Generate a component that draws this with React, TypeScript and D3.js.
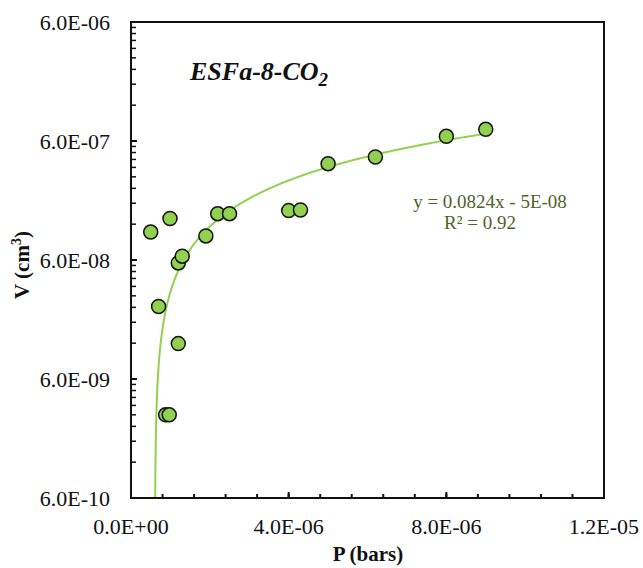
import React from "react";
import * as d3 from "d3";

const pressure = [5.0e-7, 7.0e-7, 8.8e-7, 9.7e-7, 9.9e-7, 1.2e-6, 1.2e-6, 1.3e-6, 1.9e-6, 2.2e-6, 2.5e-6, 4.0e-6, 4.3e-6, 5.0e-6, 6.2e-6, 8.0e-6, 9.0e-6];
const volume = [1.03e-7, 2.44e-8, 3.0e-9, 3.0e-9, 1.34e-7, 1.19e-8, 5.67e-8, 6.46e-8, 9.56e-8, 1.47e-7, 1.47e-7, 1.56e-7, 1.58e-7, 3.87e-7, 4.4e-7, 6.57e-7, 7.52e-7];
const xMajorTicks = [0, 4e-6, 8e-6, 1.2e-5];
const yMajorTicks = [6e-10, 6e-9, 6e-8, 6e-7, 6e-6];
const trendSlope = 0.0824;
const trendIntercept = -5e-8;
const trendXMax = 9.0e-6;
const title = "ESFa-8-CO";
const equationText = "y = 0.0824x - 5E-08";
const r2Text = "R² = 0.92";

function fmt(v: number): string {
  const [m, e] = v.toExponential(1).split("e");
  const sign = e[0];
  const digits = e.slice(1).padStart(2, "0");
  return m + "E" + sign + digits;
}

export default function App() {
  const W = 643, H = 568;
  const left = 131, right = 604, top = 22, bottom = 498;
  const x = d3.scaleLinear().domain([0, 1.2e-5]).range([left, right]);
  const y = d3.scaleLog().domain([6e-10, 6e-6]).range([bottom, top]);

  const xMinor: number[] = [];
  for (let i = 1; i < 15; i++) xMinor.push(i * 8e-7);
  const yMinor: number[] = [];
  yMajorTicks.slice(0, -1).forEach((m) => {
    for (let k = 2; k <= 9; k++) yMinor.push(m * k);
  });

  const x0 = (6e-10 - trendIntercept) / trendSlope;
  const trendPts: [number, number][] = [];
  const n = 400;
  for (let i = 0; i <= n; i++) {
    const t = i / n;
    const xv = x0 * Math.pow(trendXMax / x0, t);
    trendPts.push([xv, trendSlope * xv + trendIntercept]);
  }
  const line = d3
    .line<[number, number]>()
    .x((d) => x(d[0]))
    .y((d) => y(Math.max(d[1], 1e-12)));

  const font = "'Liberation Serif', 'Times New Roman', serif";
  const green = "#92D050";

  return (
    <svg width={W} height={H} style={{ position: "absolute", left: 0, top: 0, background: "#fff" }} fontFamily={font}>
      <defs>
        <clipPath id="plot">
          <rect x={left} y={top} width={right - left} height={bottom - top} />
        </clipPath>
      </defs>
      {/* trendline */}
      <path d={line(trendPts) || ""} fill="none" stroke={green} strokeWidth={2} clipPath="url(#plot)" />
      {/* points */}
      {pressure.map((p, i) => (
        <circle key={i} cx={x(p)} cy={y(volume[i])} r={7} fill={green} stroke="#111" strokeWidth={1.5} />
      ))}
      {/* frame */}
      <rect x={left} y={top} width={right - left} height={bottom - top} fill="none" stroke="#111" strokeWidth={2} />
      {/* x ticks */}
      {xMinor.map((v, i) => (
        <line key={"xm" + i} x1={x(v)} x2={x(v)} y1={bottom} y2={bottom - 4} stroke="#111" strokeWidth={2} />
      ))}
      {xMajorTicks.map((v, i) => (
        <g key={"xM" + i}>
          <line x1={x(v)} x2={x(v)} y1={bottom} y2={bottom - 6} stroke="#111" strokeWidth={2} />
          <text x={x(v)} y={534} textAnchor="middle" fontSize={22} fill="#111">
            {fmt(v)}
          </text>
        </g>
      ))}
      {/* y ticks */}
      {yMinor.map((v, i) => (
        <line key={"ym" + i} x1={left} x2={left + 5} y1={y(v)} y2={y(v)} stroke="#111" strokeWidth={1.5} />
      ))}
      {yMajorTicks.map((v, i) => (
        <g key={"yM" + i}>
          <line x1={left} x2={left + 6} y1={y(v)} y2={y(v)} stroke="#111" strokeWidth={2} />
          <text x={110} y={y(v)} dy="0.35em" textAnchor="end" fontSize={22} fill="#111">
            {fmt(v)}
          </text>
        </g>
      ))}
      {/* axis titles */}
      <text x={368} y={561} textAnchor="middle" fontSize={21} fontWeight="bold" fill="#111">
        P (bars)
      </text>
      <text transform="translate(29,265) rotate(-90)" textAnchor="middle" fontSize={21} fontWeight="bold" fill="#111">
        V (cm<tspan dy={-8} fontSize={14}>3</tspan>
        <tspan dy={8}>)</tspan>
      </text>
      {/* title */}
      <text x={190} y={80} fontSize={26} fontWeight="bold" fontStyle="italic" fill="#111">
        {title}
        <tspan dy={6} fontSize={19}>2</tspan>
      </text>
      {/* equation */}
      <text x={490} y={208} textAnchor="middle" fontSize={19} fill="#4F6228">
        {equationText}
      </text>
      <text x={480} y={229} textAnchor="middle" fontSize={19} fill="#4F6228">
        {r2Text}
      </text>
    </svg>
  );
}
